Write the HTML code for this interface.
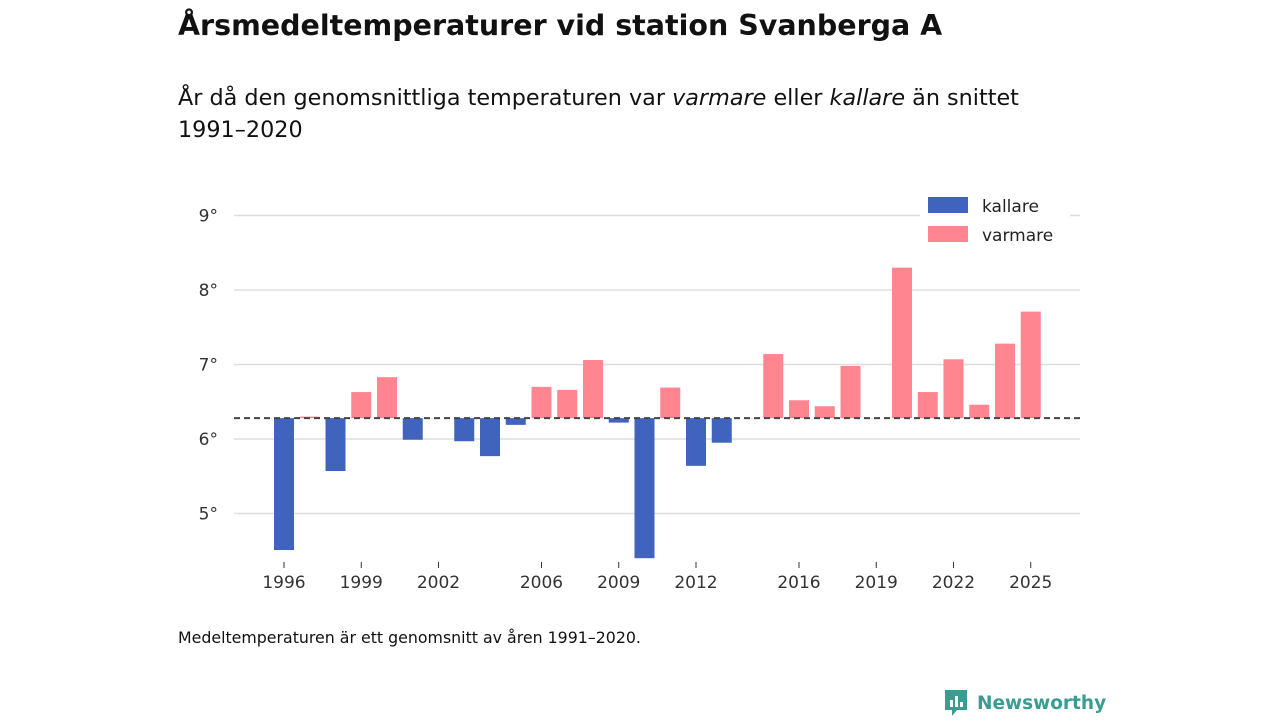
<!DOCTYPE html>
<html><head><meta charset="utf-8">
<style>
body{margin:0;width:1280px;height:720px;background:#fff;font-family:"DejaVu Sans","Liberation Sans",sans-serif;color:#111;overflow:hidden;position:relative}
h1{position:absolute;left:178px;top:9px;margin:0;font-size:28.5px;font-weight:bold}
.sub{position:absolute;left:178px;top:82px;font-size:22.3px;line-height:32px;width:860px}
.note{position:absolute;left:178px;top:628px;font-size:15.8px}
.logo{position:absolute;left:943px;top:688px;font-size:18.5px;font-weight:bold;color:#3a9d91;display:flex;align-items:center;gap:8px}
</style></head><body>
<h1>Årsmedeltemperaturer vid station Svanberga A</h1>
<div class="sub">År då den genomsnittliga temperaturen var <i>varmare</i> eller <i>kallare</i> än snittet 1991–2020</div>
<svg id="chart" width="1280" height="720" style="position:absolute;left:0;top:0"></svg>
<div class="note">Medeltemperaturen är ett genomsnitt av åren 1991–2020.</div>
<div class="logo"><svg width="26" height="30" viewBox="0 0 26 30"><path d="M2 2h22v20H14l-5 6v-6H2z" fill="#3a9d91"/><rect x="7" y="12" width="3" height="7" fill="#fff"/><rect x="12" y="8" width="3" height="11" fill="#fff"/><rect x="17" y="14" width="3" height="5" fill="#fff"/></svg><span>Newsworthy</span></div>
<script>
const years=[1996,1997,1998,1999,2000,2001,2002,2003,2004,2005,2006,2007,2008,2009,2010,2011,2012,2013,2014,2015,2016,2017,2018,2019,2020,2021,2022,2023,2024,2025];
const temps=[4.51,6.30,5.57,6.63,6.83,5.99,null,5.97,5.77,6.19,6.70,6.66,7.06,6.22,4.40,6.69,5.64,5.95,null,7.14,6.52,6.44,6.98,null,8.30,6.63,7.07,6.46,7.28,7.71];
const baseline=6.28;
const yTicks=[5,6,7,8,9];
const xTicks=[1996,1999,2002,2006,2009,2012,2016,2019,2022,2025];
const NS="http://www.w3.org/2000/svg";
const svg=document.getElementById('chart');
const y=v=>439-(v-6)*74.5;
const x=yr=>284+(yr-1996)*25.75;
function mk(t,a){const e=document.createElementNS(NS,t);for(const k in a)e.setAttribute(k,a[k]);svg.appendChild(e);return e;}
yTicks.forEach(t=>{
 const l=mk('line',{x1:234,x2:1080,y1:y(t),y2:y(t),stroke:'#ddd','stroke-width':1.5});
 
 
 const tx=mk('text',{x:218,y:y(t)+6,'text-anchor':'end','font-size':17,fill:'#333'});
 tx.textContent=t+'°';
 
 
});
xTicks.forEach(t=>{
 const l=mk('line',{x1:x(t),x2:x(t),y1:562,y2:568,stroke:'#333'});
 
 
 const tx=mk('text',{x:x(t),y:588,'text-anchor':'middle','font-size':17,fill:'#333'});
 tx.textContent=t;
 
 
});
years.forEach((yr,i)=>{
 const v=temps[i]; if(v==null)return;
 const top=Math.min(y(v),y(baseline)),h=Math.abs(y(v)-y(baseline));
 const r=mk('rect',{x:x(yr)-10,y:top,width:20,height:Math.max(h,1),fill:v<baseline?'#4063bd':'#ff8591'});
 
 
});
const bl=mk('line',{x1:234,x2:1080,y1:y(baseline),y2:y(baseline),stroke:'#444','stroke-width':2,'stroke-dasharray':'6,4'});


const lg=[['kallare','#4063bd',205],['varmare','#ff8591',234]];
const bg=mk('rect',{x:920,y:188,width:150,height:62,fill:'#fff'});


lg.forEach(([n,c,yy])=>{
 const r=mk('rect',{x:928,y:yy-8,width:40,height:16,fill:c});
 
 
 const t=mk('text',{x:982,y:yy+7,'font-size':17,fill:'#222'});
 t.textContent=n;
 
 
});
</script>
</body></html>
